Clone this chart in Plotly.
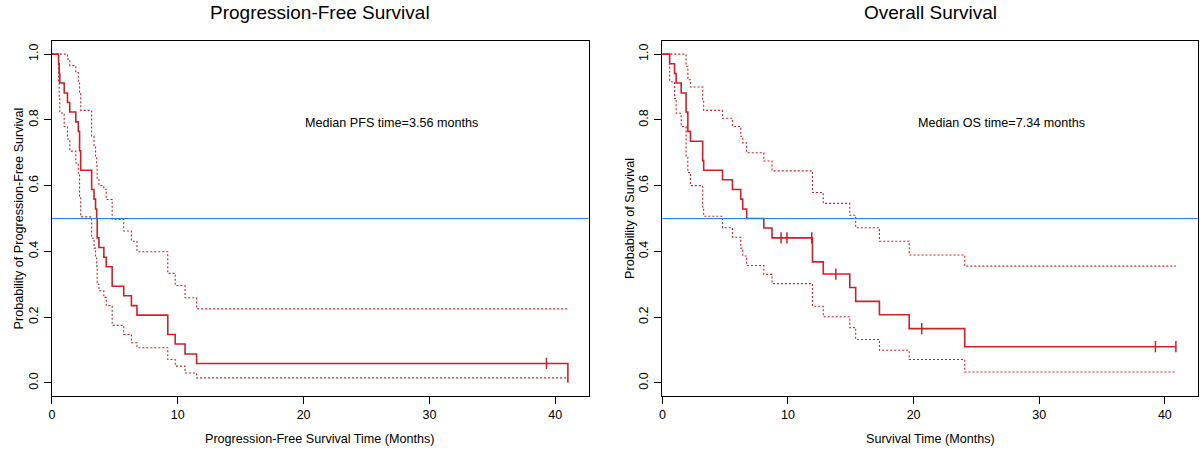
import plotly.graph_objects as go

# Progression-free survival: event times (months), KM estimate and 95% CI
pfs_time = [0, 0.53, 0.58, 0.63, 0.98, 1.24, 1.42, 1.9, 2.1, 2.2, 2.29, 3.16, 3.35, 3.47, 3.56,
            3.6, 3.74, 4.13, 4.32, 4.79, 5.71, 6.32, 6.76, 9.21, 9.8, 10.58, 11.5, 41]
pfs_surv = [1, 0.971, 0.941, 0.912, 0.882, 0.853, 0.824, 0.794, 0.765, 0.706, 0.647, 0.588, 0.559,
            0.529, 0.5, 0.441, 0.412, 0.382, 0.353, 0.294, 0.265, 0.235, 0.206, 0.147, 0.118,
            0.088, 0.059, 0]
pfs_upper = [1, 1, 1, 1, 1, 0.985, 0.965, 0.944, 0.914, 0.88, 0.829, 0.75, 0.72, 0.69, 0.66,
             0.62, 0.60, 0.589, 0.558, 0.497, 0.462, 0.431, 0.399, 0.333, 0.296, 0.259, 0.225, 0.225]
pfs_lower = [1, 0.916, 0.865, 0.821, 0.78, 0.742, 0.705, 0.669, 0.635, 0.568, 0.505, 0.44, 0.41,
             0.38, 0.355, 0.30, 0.28, 0.26, 0.235, 0.175, 0.147, 0.122, 0.107, 0.071, 0.051,
             0.030, 0.015, 0.015]
pfs_censor_time = [39.3]
pfs_censor_surv = [0.059]

# Overall survival
os_time = [0, 0.58, 0.97, 1.1, 1.5, 1.89, 2.03, 2.24, 3.21, 3.29, 4.79, 5.58, 6.24, 6.4, 6.71,
           8.08, 8.73, 11.95, 12.81, 14.92, 15.39, 17.28, 19.65, 24.07, 40.88]
os_surv = [1, 0.971, 0.941, 0.912, 0.882, 0.824, 0.765, 0.735, 0.676, 0.647, 0.618, 0.588, 0.559,
           0.529, 0.5, 0.471, 0.441, 0.368, 0.331, 0.290, 0.248, 0.207, 0.165, 0.110, 0.110]
os_upper = [1, 1, 1, 1, 1, 0.963, 0.922, 0.90, 0.86, 0.829, 0.805, 0.78, 0.75, 0.73, 0.70,
            0.675, 0.645, 0.579, 0.546, 0.51, 0.472, 0.431, 0.389, 0.355, 0.355]
os_lower = [1, 0.916, 0.865, 0.82, 0.78, 0.69, 0.64, 0.60, 0.535, 0.507, 0.472, 0.443, 0.41,
            0.386, 0.357, 0.33, 0.302, 0.233, 0.201, 0.168, 0.132, 0.099, 0.071, 0.033, 0.033]
os_censor_time = [9.45, 9.92, 11.89, 13.81, 20.65, 39.25, 40.88]
os_censor_surv = [0.441, 0.441, 0.441, 0.331, 0.165, 0.110, 0.110]

median_ref = 0.5
y_ticks = [0, 0.2, 0.4, 0.6, 0.8, 1.0]
y_ticktext = ['0.0', '0.2', '0.4', '0.6', '0.8', '1.0']
x_ticks = [0, 10, 20, 30, 40]

RED = '#cc2229'
BLUE = '#1d8bd2'
FONT = 'Liberation Sans, Arial, sans-serif'

fig = go.Figure()


def add_km(xa, ya, t, s, up, lo, ct, cs):
    for band in (up, lo):
        fig.add_trace(go.Scatter(x=t, y=band, mode='lines', line_shape='hv',
                                 line=dict(color=RED, width=1.1, dash='2px,2px'),
                                 xaxis=xa, yaxis=ya, hoverinfo='skip'))
    fig.add_trace(go.Scatter(x=t, y=s, mode='lines', line_shape='hv',
                             line=dict(color=RED, width=1.6),
                             xaxis=xa, yaxis=ya))
    # censoring marks
    fig.add_trace(go.Scatter(x=ct, y=cs, mode='markers',
                             marker=dict(symbol='line-ns-open', size=8, color=RED,
                                         line=dict(color=RED, width=1.5)),
                             xaxis=xa, yaxis=ya))


add_km('x', 'y', pfs_time, pfs_surv, pfs_upper, pfs_lower, pfs_censor_time, pfs_censor_surv)
add_km('x2', 'y2', os_time, os_surv, os_upper, os_lower, os_censor_time, os_censor_surv)

W, H = 1200, 451


def xaxis(dom):
    return dict(domain=dom, range=[0, 42.64], tickvals=x_ticks, showline=True, mirror=True,
                linecolor='black', linewidth=1, ticks='outside', ticklen=7, tickcolor='black',
                showgrid=False, zeroline=False,
                tickfont=dict(family=FONT, size=12.5, color='black'))


def yaxis(anchor):
    return dict(domain=[1 - 396 / H, 1 - 41 / H], range=[-0.04, 1.04], tickvals=y_ticks,
                ticktext=y_ticktext, tickangle=-90, anchor=anchor, showline=True, mirror=True,
                linecolor='black', linewidth=1, ticks='outside', ticklen=7, tickcolor='black',
                showgrid=False, zeroline=False, ticklabelstandoff=1,
                tickfont=dict(family=FONT, size=12.5, color='black'))


fig.update_layout(
    width=W, height=H,
    margin=dict(l=0, r=0, t=0, b=0),
    paper_bgcolor='white', plot_bgcolor='white',
    showlegend=False,
    xaxis=dict(xaxis([49 / W, 587 / W]), anchor='y'),
    yaxis=yaxis('x'),
    xaxis2=dict(xaxis([661 / W, 1198 / W]), anchor='y2'),
    yaxis2=yaxis('x2'),
)

for xr, yr in (('x', 'y'), ('x2', 'y2')):
    fig.add_shape(type='line', xref=xr + ' domain', yref=yr, x0=0, x1=1,
                  y0=median_ref, y1=median_ref, line=dict(color=BLUE, width=1.2))

ann = [
    dict(text='Median PFS time=3.56 months', x=27, y=0.79, xref='x', yref='y', size=12.6),
    dict(text='Median OS time=7.34 months', x=27, y=0.79, xref='x2', yref='y2', size=12.6),
    dict(text='Progression-Free Survival', x=318 / W, y=1 - 13 / H, xref='paper', yref='paper', size=19),
    dict(text='Overall Survival', x=929.5 / W, y=1 - 13 / H, xref='paper', yref='paper', size=19),
    dict(text='Progression-Free Survival Time (Months)', x=318 / W, y=1 - 439 / H,
         xref='paper', yref='paper', size=12.6),
    dict(text='Survival Time (Months)', x=929.5 / W, y=1 - 439 / H, xref='paper', yref='paper', size=12.6),
]
for a in ann:
    fig.add_annotation(text=a['text'], x=a['x'], y=a['y'], xref=a['xref'], yref=a['yref'],
                       showarrow=False, xanchor='center', yanchor='middle',
                       font=dict(family=FONT, size=a['size'], color='black'))

for txt, xp in (('Probability of Progression-Free Survival', 16 / W),
                ('Probability of Survival', 628 / W)):
    fig.add_annotation(text=txt, x=xp, y=1 - 218.5 / H, xref='paper', yref='paper',
                       showarrow=False, textangle=-90, xanchor='center', yanchor='middle',
                       font=dict(family=FONT, size=12.6, color='black'))

# page body has a default margin; drop it so the figure sits at the window origin
fig.write_html("out.html", config={'displayModeBar': False},
               post_script="document.body.style.margin='0';document.body.style.overflow='hidden';")
